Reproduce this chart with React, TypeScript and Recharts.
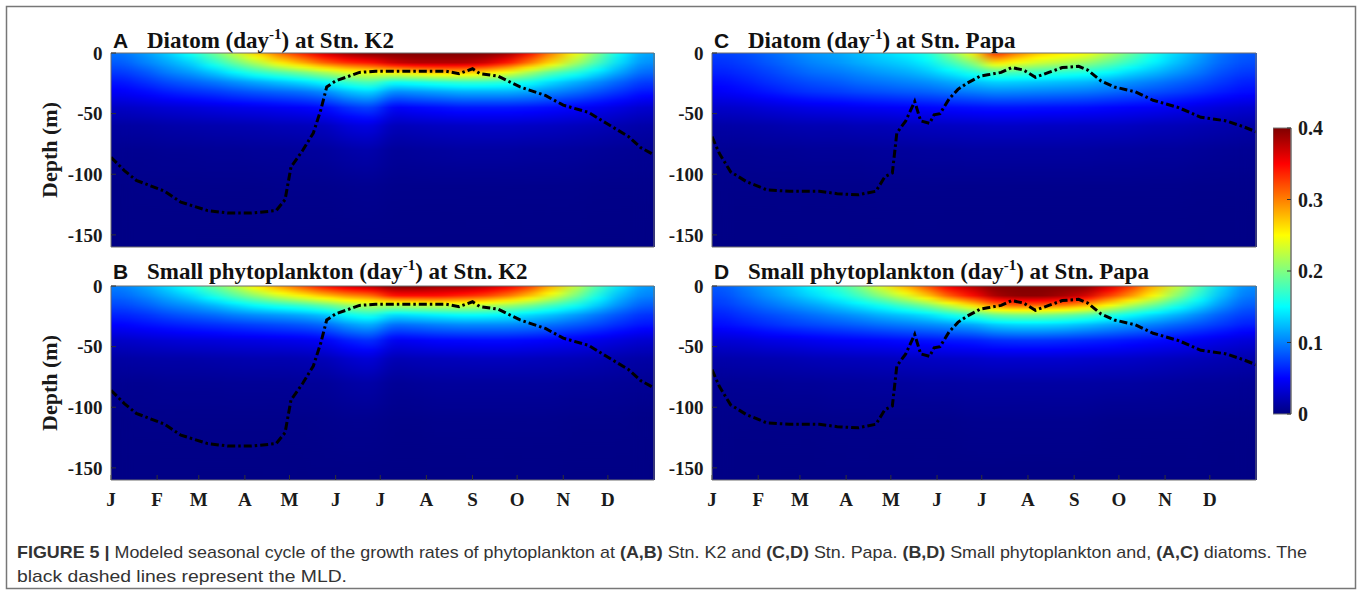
import { Bar, BarChart, Cell, ComposedChart, Line, XAxis, YAxis } from "recharts";

// month starts (day of year) and their labels
const MONTH_TICKS = [0, 31, 59, 90, 120, 151, 181, 212, 243, 273, 304, 334];
const MONTH_LABELS = ["J", "F", "M", "A", "M", "J", "J", "A", "S", "O", "N", "D"];
const DEPTH_TICKS = [-150, -100, -50, 0];
const COLOR_TICKS = [0, 0.1, 0.2, 0.3, 0.4];

// depth levels (m) of each column profile below
const DEPTH_LEVELS = [0, 8, 16, 24, 32, 45, 60, 80, 110, 160];

// growth rate (day^-1), 24 half-month columns x DEPTH_LEVELS
const diatomK2 = [
  [0.095, 0.085, 0.072, 0.058, 0.047, 0.027, 0.013, 0.007, 0.003, 0.002],
  [0.11, 0.1, 0.083, 0.068, 0.053, 0.03, 0.014, 0.007, 0.004, 0.002],
  [0.13, 0.115, 0.099, 0.079, 0.061, 0.033, 0.016, 0.008, 0.004, 0.002],
  [0.155, 0.132, 0.11, 0.087, 0.067, 0.035, 0.017, 0.008, 0.004, 0.002],
  [0.19, 0.162, 0.127, 0.096, 0.072, 0.038, 0.018, 0.009, 0.004, 0.002],
  [0.23, 0.192, 0.148, 0.107, 0.079, 0.041, 0.019, 0.009, 0.004, 0.002],
  [0.27, 0.222, 0.168, 0.117, 0.085, 0.043, 0.02, 0.01, 0.004, 0.002],
  [0.31, 0.257, 0.183, 0.127, 0.09, 0.046, 0.022, 0.01, 0.005, 0.002],
  [0.34, 0.283, 0.198, 0.137, 0.095, 0.049, 0.023, 0.011, 0.005, 0.002],
  [0.37, 0.313, 0.218, 0.152, 0.105, 0.054, 0.025, 0.012, 0.005, 0.002],
  [0.39, 0.333, 0.238, 0.172, 0.125, 0.069, 0.035, 0.016, 0.006, 0.002],
  [0.4, 0.343, 0.248, 0.182, 0.135, 0.077, 0.039, 0.018, 0.007, 0.002],
  [0.4, 0.37, 0.255, 0.155, 0.104, 0.047, 0.022, 0.01, 0.005, 0.002],
  [0.4, 0.38, 0.265, 0.16, 0.109, 0.052, 0.024, 0.011, 0.005, 0.002],
  [0.4, 0.38, 0.275, 0.166, 0.114, 0.055, 0.026, 0.012, 0.005, 0.002],
  [0.4, 0.38, 0.275, 0.171, 0.119, 0.059, 0.027, 0.013, 0.005, 0.002],
  [0.4, 0.37, 0.265, 0.171, 0.119, 0.059, 0.028, 0.013, 0.005, 0.002],
  [0.39, 0.343, 0.246, 0.166, 0.119, 0.059, 0.028, 0.013, 0.005, 0.002],
  [0.35, 0.303, 0.216, 0.156, 0.114, 0.057, 0.027, 0.012, 0.005, 0.002],
  [0.3, 0.263, 0.186, 0.136, 0.104, 0.054, 0.026, 0.012, 0.005, 0.002],
  [0.25, 0.218, 0.166, 0.12, 0.094, 0.049, 0.024, 0.011, 0.005, 0.002],
  [0.2, 0.178, 0.14, 0.105, 0.082, 0.044, 0.022, 0.01, 0.004, 0.002],
  [0.15, 0.137, 0.114, 0.089, 0.07, 0.038, 0.019, 0.009, 0.004, 0.002],
  [0.115, 0.106, 0.091, 0.073, 0.058, 0.031, 0.016, 0.008, 0.004, 0.002],
];

const smallK2 = [
  [0.1, 0.09, 0.077, 0.063, 0.05, 0.028, 0.014, 0.007, 0.003, 0.002],
  [0.115, 0.102, 0.086, 0.069, 0.055, 0.031, 0.015, 0.007, 0.004, 0.002],
  [0.135, 0.118, 0.099, 0.078, 0.06, 0.033, 0.016, 0.008, 0.004, 0.002],
  [0.16, 0.134, 0.108, 0.085, 0.064, 0.035, 0.016, 0.008, 0.004, 0.002],
  [0.19, 0.159, 0.121, 0.091, 0.068, 0.036, 0.017, 0.008, 0.004, 0.002],
  [0.22, 0.184, 0.137, 0.1, 0.072, 0.038, 0.018, 0.009, 0.004, 0.002],
  [0.26, 0.209, 0.152, 0.106, 0.076, 0.039, 0.019, 0.009, 0.004, 0.002],
  [0.29, 0.234, 0.163, 0.111, 0.08, 0.041, 0.019, 0.009, 0.004, 0.002],
  [0.32, 0.254, 0.173, 0.117, 0.084, 0.043, 0.02, 0.01, 0.004, 0.002],
  [0.35, 0.275, 0.189, 0.127, 0.092, 0.047, 0.022, 0.01, 0.005, 0.002],
  [0.37, 0.295, 0.21, 0.152, 0.11, 0.061, 0.03, 0.014, 0.006, 0.002],
  [0.38, 0.305, 0.22, 0.162, 0.12, 0.069, 0.035, 0.016, 0.006, 0.002],
  [0.4, 0.345, 0.218, 0.136, 0.092, 0.044, 0.02, 0.009, 0.004, 0.002],
  [0.4, 0.345, 0.223, 0.141, 0.096, 0.047, 0.022, 0.01, 0.004, 0.002],
  [0.39, 0.345, 0.228, 0.146, 0.101, 0.051, 0.023, 0.011, 0.005, 0.002],
  [0.39, 0.335, 0.228, 0.151, 0.104, 0.052, 0.024, 0.011, 0.005, 0.002],
  [0.38, 0.325, 0.223, 0.151, 0.104, 0.053, 0.025, 0.011, 0.005, 0.002],
  [0.36, 0.305, 0.213, 0.146, 0.104, 0.053, 0.025, 0.011, 0.005, 0.002],
  [0.33, 0.275, 0.198, 0.136, 0.101, 0.051, 0.024, 0.011, 0.005, 0.002],
  [0.28, 0.24, 0.177, 0.126, 0.094, 0.049, 0.023, 0.011, 0.005, 0.002],
  [0.23, 0.2, 0.157, 0.112, 0.086, 0.045, 0.022, 0.01, 0.004, 0.002],
  [0.18, 0.159, 0.131, 0.097, 0.077, 0.041, 0.02, 0.01, 0.004, 0.002],
  [0.14, 0.123, 0.105, 0.082, 0.066, 0.036, 0.017, 0.009, 0.004, 0.002],
  [0.11, 0.101, 0.086, 0.069, 0.057, 0.031, 0.015, 0.008, 0.003, 0.002],
];

const diatomPapa = [
  [0.075, 0.069, 0.062, 0.054, 0.047, 0.029, 0.015, 0.008, 0.004, 0.002],
  [0.08, 0.075, 0.068, 0.06, 0.052, 0.031, 0.016, 0.008, 0.004, 0.002],
  [0.09, 0.084, 0.076, 0.068, 0.058, 0.035, 0.017, 0.009, 0.004, 0.002],
  [0.1, 0.093, 0.085, 0.075, 0.065, 0.038, 0.019, 0.009, 0.004, 0.002],
  [0.11, 0.102, 0.093, 0.081, 0.07, 0.041, 0.02, 0.01, 0.004, 0.002],
  [0.115, 0.108, 0.097, 0.085, 0.073, 0.043, 0.02, 0.01, 0.004, 0.002],
  [0.125, 0.117, 0.104, 0.092, 0.078, 0.045, 0.022, 0.01, 0.004, 0.002],
  [0.135, 0.125, 0.111, 0.096, 0.081, 0.047, 0.022, 0.011, 0.005, 0.002],
  [0.145, 0.132, 0.117, 0.101, 0.085, 0.049, 0.024, 0.011, 0.005, 0.002],
  [0.16, 0.145, 0.127, 0.106, 0.088, 0.051, 0.025, 0.012, 0.005, 0.002],
  [0.2, 0.173, 0.143, 0.115, 0.094, 0.053, 0.026, 0.012, 0.005, 0.002],
  [0.25, 0.204, 0.161, 0.125, 0.099, 0.055, 0.027, 0.013, 0.005, 0.002],
  [0.34, 0.265, 0.182, 0.133, 0.104, 0.057, 0.028, 0.013, 0.005, 0.002],
  [0.3, 0.245, 0.177, 0.131, 0.103, 0.057, 0.028, 0.013, 0.005, 0.002],
  [0.27, 0.23, 0.172, 0.128, 0.101, 0.056, 0.027, 0.013, 0.005, 0.002],
  [0.26, 0.219, 0.166, 0.125, 0.099, 0.055, 0.027, 0.013, 0.005, 0.002],
  [0.25, 0.209, 0.161, 0.122, 0.097, 0.054, 0.026, 0.013, 0.005, 0.002],
  [0.22, 0.189, 0.151, 0.114, 0.092, 0.051, 0.026, 0.012, 0.005, 0.002],
  [0.19, 0.168, 0.135, 0.107, 0.086, 0.049, 0.025, 0.012, 0.005, 0.002],
  [0.16, 0.146, 0.123, 0.099, 0.081, 0.047, 0.023, 0.011, 0.005, 0.002],
  [0.135, 0.125, 0.109, 0.09, 0.075, 0.043, 0.022, 0.011, 0.005, 0.002],
  [0.115, 0.107, 0.096, 0.081, 0.068, 0.039, 0.02, 0.01, 0.004, 0.002],
  [0.095, 0.09, 0.081, 0.071, 0.06, 0.035, 0.018, 0.009, 0.004, 0.002],
  [0.085, 0.08, 0.072, 0.062, 0.054, 0.032, 0.016, 0.008, 0.004, 0.002],
];

const smallPapa = [
  [0.085, 0.079, 0.072, 0.062, 0.054, 0.033, 0.017, 0.008, 0.004, 0.002],
  [0.1, 0.093, 0.083, 0.071, 0.06, 0.035, 0.018, 0.009, 0.004, 0.002],
  [0.115, 0.107, 0.094, 0.079, 0.067, 0.039, 0.019, 0.009, 0.004, 0.002],
  [0.13, 0.12, 0.104, 0.086, 0.073, 0.041, 0.02, 0.01, 0.004, 0.002],
  [0.15, 0.136, 0.114, 0.094, 0.078, 0.044, 0.022, 0.01, 0.004, 0.002],
  [0.17, 0.153, 0.127, 0.102, 0.083, 0.047, 0.023, 0.011, 0.005, 0.002],
  [0.2, 0.175, 0.141, 0.11, 0.088, 0.049, 0.024, 0.011, 0.005, 0.002],
  [0.24, 0.204, 0.156, 0.12, 0.094, 0.051, 0.025, 0.012, 0.005, 0.002],
  [0.28, 0.235, 0.177, 0.128, 0.099, 0.054, 0.026, 0.012, 0.005, 0.002],
  [0.32, 0.27, 0.198, 0.138, 0.104, 0.056, 0.027, 0.013, 0.005, 0.002],
  [0.36, 0.316, 0.229, 0.156, 0.11, 0.059, 0.028, 0.013, 0.005, 0.002],
  [0.38, 0.347, 0.26, 0.172, 0.116, 0.061, 0.029, 0.014, 0.006, 0.002],
  [0.4, 0.385, 0.3, 0.192, 0.13, 0.067, 0.031, 0.014, 0.006, 0.002],
  [0.4, 0.395, 0.31, 0.198, 0.135, 0.069, 0.031, 0.014, 0.006, 0.002],
  [0.4, 0.395, 0.31, 0.198, 0.135, 0.069, 0.031, 0.014, 0.006, 0.002],
  [0.4, 0.385, 0.3, 0.192, 0.132, 0.067, 0.031, 0.014, 0.006, 0.002],
  [0.4, 0.367, 0.281, 0.182, 0.125, 0.064, 0.03, 0.014, 0.006, 0.002],
  [0.37, 0.326, 0.25, 0.166, 0.116, 0.061, 0.029, 0.013, 0.005, 0.002],
  [0.33, 0.291, 0.218, 0.151, 0.108, 0.057, 0.028, 0.013, 0.005, 0.002],
  [0.28, 0.25, 0.192, 0.135, 0.1, 0.053, 0.026, 0.012, 0.005, 0.002],
  [0.23, 0.204, 0.161, 0.12, 0.09, 0.049, 0.024, 0.011, 0.005, 0.002],
  [0.18, 0.163, 0.135, 0.103, 0.081, 0.045, 0.022, 0.01, 0.005, 0.002],
  [0.135, 0.124, 0.107, 0.086, 0.071, 0.04, 0.02, 0.01, 0.004, 0.002],
  [0.105, 0.097, 0.086, 0.073, 0.061, 0.035, 0.018, 0.009, 0.004, 0.002],
];

// mixed layer depth (MLD), day of year / depth (m)
const k2Days = [0, 9, 17, 36, 47, 65, 79, 94, 111, 117, 121, 129, 136, 141, 145, 151, 158, 167, 178, 187, 202, 216, 225, 234, 243, 248, 260, 275, 292, 304, 321, 333, 348, 356, 365];
const k2Depths = [-86, -97, -105, -114, -123, -130, -132, -132, -130, -121, -94, -80, -66, -47, -28, -23, -20, -16, -15, -15, -15, -15, -15, -17, -13, -17, -19, -28, -35, -43, -49, -58, -69, -78, -84];
const papaDays = [0, 5, 12.5, 23, 37, 52, 72, 84, 98, 110, 116, 121, 124, 130, 136, 140, 146, 149, 153, 159, 165, 171, 180, 185, 194, 201, 209, 217, 226, 235, 246, 252, 261, 270, 284, 296, 313, 328, 345, 357, 365];
const papaDepths = [-69, -83, -98, -106, -113, -114, -114, -116, -117, -114, -102, -99, -66, -56, -40, -56, -58, -51, -50, -38, -30, -25, -19, -18, -16, -12, -14, -20, -16, -12, -11, -14, -23, -28, -32, -39, -45, -53, -56, -61, -65];

const PLOT_H = 194;
const VMAX = 0.4;
const SERIF = "'Liberation Serif', 'Times New Roman', serif";
const SANS = "'Liberation Sans', Arial, sans-serif";

function jet(v: number) {
  const t = Math.max(0, Math.min(1, v / VMAX));
  const ch = (c: number) => Math.round(255 * Math.max(0, Math.min(1, 1.5 - Math.abs(4 * t - c))));
  return `rgb(${ch(3)},${ch(2)},${ch(1)})`;
}

// vertical gradient for one column; sub-steps keep jet colours between levels
function profileStops(profile: number[]) {
  const bottom = DEPTH_LEVELS[DEPTH_LEVELS.length - 1];
  const stops = [];
  for (let k = 0; k < DEPTH_LEVELS.length - 1; k++) {
    const z0 = DEPTH_LEVELS[k];
    const z1 = DEPTH_LEVELS[k + 1];
    for (let s = 0; s < 4; s++) {
      const f = s / 4;
      stops.push(
        <stop
          key={`${k}-${s}`}
          offset={(z0 + f * (z1 - z0)) / bottom}
          stopColor={jet(profile[k] + f * (profile[k + 1] - profile[k]))}
        />
      );
    }
  }
  stops.push(<stop key="end" offset={1} stopColor={jet(profile[profile.length - 1])} />);
  return stops;
}

const tickText = { fontFamily: SERIF, fontWeight: 700, fontSize: 19, fill: "#1a1a1a" };
const axisLine = { stroke: "#6f6f6f", strokeWidth: 1 };
const tickLine = { stroke: "#333", strokeWidth: 1 };

interface PanelProps {
  id: string;
  left: number;
  top: number;
  plotW: number;
  profiles: number[][];
  days: number[];
  depths: number[];
  showMonths: boolean;
}

function Panel({ id, left, top, plotW, profiles, days, depths, showMonths }: PanelProps) {
  const cols = profiles.map((_, i) => ({ col: i, span: -160 }));
  const mld = days.map((d, i) => ({ day: d, depth: depths[i] }));
  const bottomH = showMonths ? 34 : 1;
  return (
    <div style={{ position: "absolute", left: left - 70, top: top - 12 }}>
      <ComposedChart
        width={plotW + 76}
        height={12 + PLOT_H + bottomH + 8}
        data={cols}
        margin={{ top: 11, right: 5, bottom: 8, left: 0 }}
        barCategoryGap={0}
        barGap={0}
      >
        <defs>
          {profiles.map((p, i) => (
            <linearGradient key={i} id={`${id}-g${i}`} x1="0" y1="0" x2="0" y2="1">
              {profileStops(p)}
            </linearGradient>
          ))}
        </defs>
        <XAxis xAxisId="cells" dataKey="col" type="category" hide height={0} />
        <Bar xAxisId="cells" yAxisId="depth" dataKey="span" className="heat" isAnimationActive={false}>
          {cols.map((c) => (
            <Cell key={c.col} fill={`url(#${id}-g${c.col})`} />
          ))}
        </Bar>
        <Line
          xAxisId="days"
          yAxisId="depth"
          data={mld}
          dataKey="depth"
          type="linear"
          stroke="#000"
          strokeWidth={3}
          strokeDasharray="8 3 2.5 3"
          dot={false}
          isAnimationActive={false}
        />
        <XAxis
          xAxisId="days"
          dataKey="day"
          type="number"
          domain={[0, 365]}
          allowDataOverflow
          ticks={MONTH_TICKS}
          interval={0}
          height={bottomH}
          tick={showMonths ? tickText : false}
          tickFormatter={(v: number) => MONTH_LABELS[MONTH_TICKS.indexOf(v)] ?? ""}
          tickSize={-5}
          tickMargin={17.5}
          axisLine={axisLine}
          tickLine={tickLine}
        />
        <XAxis
          xAxisId="top"
          orientation="top"
          type="number"
          domain={[0, 365]}
          allowDataOverflow
          ticks={MONTH_TICKS}
          interval={0}
          height={1}
          tick={false}
          tickSize={-5}
          axisLine={axisLine}
          tickLine={tickLine}
        />
        <YAxis
          yAxisId="depth"
          type="number"
          domain={[-160, 0]}
          allowDataOverflow
          ticks={DEPTH_TICKS}
          interval={0}
          width={70}
          tick={tickText}
          tickSize={-5}
          tickMargin={13.5}
          axisLine={axisLine}
          tickLine={tickLine}
        />
        <YAxis
          yAxisId="right"
          orientation="right"
          type="number"
          domain={[-160, 0]}
          allowDataOverflow
          ticks={DEPTH_TICKS}
          interval={0}
          width={1}
          tick={false}
          tickSize={-5}
          axisLine={axisLine}
          tickLine={tickLine}
        />
      </ComposedChart>
    </div>
  );
}

function ColorBar() {
  const data = [{ k: "bar", v: VMAX }];
  const stops = [];
  for (let i = 0; i <= 32; i++) {
    stops.push(<stop key={i} offset={i / 32} stopColor={jet(VMAX * (1 - i / 32))} />);
  }
  return (
    <div style={{ position: "absolute", left: 1273, top: 116 }}>
      <BarChart width={68} height={310} data={data} margin={{ top: 12, right: 0, bottom: 12, left: 0 }} barCategoryGap={0}>
        <defs>
          <linearGradient id="jetbar" x1="0" y1="0" x2="0" y2="1">
            {stops}
          </linearGradient>
        </defs>
        <XAxis dataKey="k" hide height={0} />
        <Bar dataKey="v" fill="url(#jetbar)" stroke="#777" strokeWidth={1} isAnimationActive={false} />
        <YAxis
          orientation="right"
          type="number"
          domain={[0, VMAX]}
          ticks={COLOR_TICKS}
          interval={0}
          width={50}
          tick={{ ...tickText, fontSize: 20 }}
          tickFormatter={(v: number) => (v === 0 ? "0" : v.toFixed(1))}
          tickSize={-4}
          tickMargin={11}
          axisLine={axisLine}
          tickLine={tickLine}
        />
      </BarChart>
    </div>
  );
}

function Title({ x, y, letter, name, station }: { x: number; y: number; letter: string; name: string; station: string }) {
  return (
    <text x={x} y={y} fill="#111">
      <tspan fontFamily={SANS} fontWeight={700} fontSize={21}>
        {letter}
      </tspan>
      <tspan x={x + 34} fontFamily={SERIF} fontWeight={700} fontSize={23}>
        {name} (day
      </tspan>
      <tspan fontFamily={SERIF} fontWeight={700} fontSize={15} dy={-9}>
        -1
      </tspan>
      <tspan fontFamily={SERIF} fontWeight={700} fontSize={23} dy={9}>
        ) at Stn. {station}
      </tspan>
    </text>
  );
}

export default function App() {
  return (
    <div style={{ position: "absolute", left: 0, top: 0, width: 1360, height: 596, background: "#fff", overflow: "hidden" }}>
      <style>{".heat { filter: url(#hblur); }"}</style>
      <svg width={0} height={0} style={{ position: "absolute" }}>
        <defs>
          <filter id="hblur" x="0" y="0" width="1" height="1" colorInterpolationFilters="sRGB">
            <feGaussianBlur stdDeviation="9 0" />
            <feComponentTransfer>
              <feFuncA type="linear" slope="0" intercept="1" />
            </feComponentTransfer>
          </filter>
        </defs>
      </svg>

      <Panel id="pa" left={111} top={53} plotW={543} profiles={diatomK2} days={k2Days} depths={k2Depths} showMonths={false} />
      <Panel id="pb" left={111} top={286} plotW={543} profiles={smallK2} days={k2Days} depths={k2Depths} showMonths />
      <Panel id="pc" left={712} top={53} plotW={544} profiles={diatomPapa} days={papaDays} depths={papaDepths} showMonths={false} />
      <Panel id="pd" left={712} top={286} plotW={544} profiles={smallPapa} days={papaDays} depths={papaDepths} showMonths />
      <ColorBar />

      <svg width={1360} height={596} style={{ position: "absolute", left: 0, top: 0, pointerEvents: "none" }}>
        <rect x={6.5} y={6.5} width={1349} height={582} fill="none" stroke="#777" strokeWidth={1.5} />
        <Title x={113} y={48} letter="A" name="Diatom" station="K2" />
        <Title x={113} y={279} letter="B" name="Small phytoplankton" station="K2" />
        <Title x={714} y={48} letter="C" name="Diatom" station="Papa" />
        <Title x={714} y={279} letter="D" name="Small phytoplankton" station="Papa" />
        <text transform="translate(57,150) rotate(-90)" textAnchor="middle" fontFamily={SERIF} fontWeight={700} fontSize={22} fill="#1a1a1a">
          Depth (m)
        </text>
        <text transform="translate(57,383) rotate(-90)" textAnchor="middle" fontFamily={SERIF} fontWeight={700} fontSize={22} fill="#1a1a1a">
          Depth (m)
        </text>
        <text x={17} y={558} fontFamily={SANS} fontSize={17} fill="#333" textLength={1290} lengthAdjust="spacingAndGlyphs">
          <tspan fontWeight={700}>FIGURE 5 |</tspan> Modeled seasonal cycle of the growth rates of phytoplankton at{" "}
          <tspan fontWeight={700}>(A,B)</tspan> Stn. K2 and <tspan fontWeight={700}>(C,D)</tspan> Stn. Papa.{" "}
          <tspan fontWeight={700}>(B,D)</tspan> Small phytoplankton and, <tspan fontWeight={700}>(A,C)</tspan> diatoms. The
        </text>
        <text x={17} y={582} fontFamily={SANS} fontSize={17} fill="#333" textLength={330} lengthAdjust="spacingAndGlyphs">
          black dashed lines represent the MLD.
        </text>
      </svg>
    </div>
  );
}
